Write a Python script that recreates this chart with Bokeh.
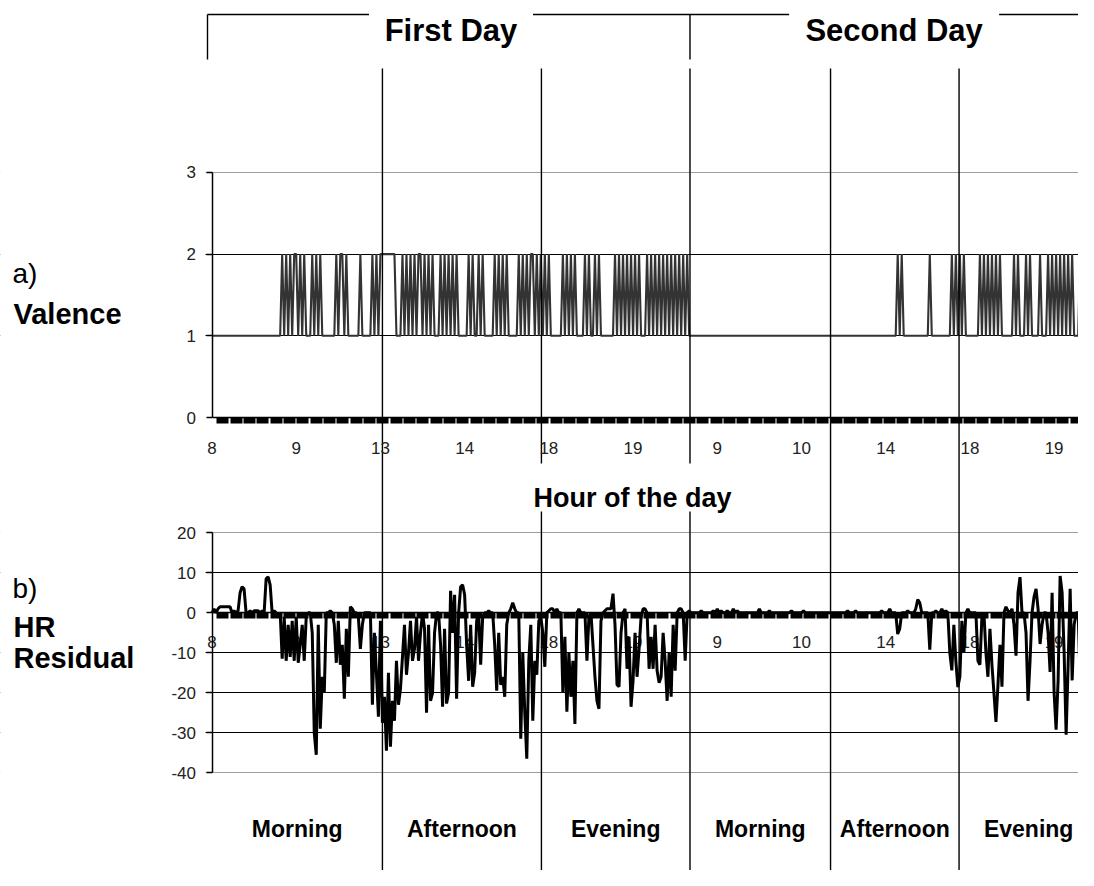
import numpy as np
from bokeh.plotting import figure
from bokeh.models import Range1d, LinearAxis, FixedTicker, Grid, BoxAnnotation, Label
from bokeh.embed import file_html
from bokeh.resources import INLINE

# ---------------- data ----------------
hour_labels = ["8", "9", "13", "14", "18", "19", "9", "10", "14", "18", "19"]
samples_per_label = 42
day_names = ["First Day", "Second Day"]
period_names = ["Morning", "Afternoon", "Evening", "Morning", "Afternoon", "Evening"]
# sample index of the Morning / Afternoon / Evening boundaries (the middle one ends day 1)
period_bounds = [85.0, 164.3, 238.4, 308.5, 372.6]
data_end = 442
valence_ticks = [0, 1, 2, 3]
hr_ticks = [-40, -30, -20, -10, 0, 10, 20]

# valence per sample (1 = neutral, 2 = positive)
valence_codes = (
    "1111111111" "1111111111" "1111111111" "11111"
    "212121221212" "111" "212121" "111111" "212212" "11111" "121" "1111"
    "21212" "2222222" "111" "21212121221212121" "11" "212121212" "11111"
    "21211212" "11111" "2121212" "11111" "21212122121212121" "11111"
    "21212121" "111" "212112121" "111111" "21212121212121" "11"
    "212121212121212121212"
    "1111111111" "1111111111" "1111111111" "1111111111" "1111111111"
    "1111111111" "1111111111" "1111111111" "1111111111" "1111111111" "1111"
    "212" "1111111111111" "21" "111111111" "21212121" "111111"
    "212121212121" "11111" "212" "111" "212" "1111" "21" "11"
    "21212121212121" "11" "21" "11"
)
valence = [int(c) for c in valence_codes]

# heart-rate residual per sample
hr_residual = [
    0, 1, 0, 1, 1.5, 1.5, 1.5, 1.5, 1.5, 1.5,            # 0
    0, 0.5, 0, 0.5, 5, 6.5, 6, 0, 0, 0.5,                # 10
    0, 0.5, 0.5, 0.5, 0, 0.5, 0, 8.5, 9, 7,              # 20
    0, 0.5, 0, -1, 0, -11.5, -1, -12, -3, -11,           # 30
    -2, -12, -1, -12.5, -8, -3, -12, -1, 0, 0,           # 40
    -5, -30, -35.5, -3, -29, -16, -20, 0, 0, 0.5,        # 50
    0, -3, -12.5, -2, -13, -8, -21.5, -4, -16, 1.5,      # 60
    1, 0, 0, -1, -9, -3, 0, 0, 0, 0,                     # 70
    -23, -5, -15, -26, -2, -27.5, -21, -34.5, -15, -33.5,  # 80
    -22, -27, -12, -23, -19, -11, -3, -15.5, -10, -2,    # 90
    -12, -9, -1, -12, -5, 0, -4, -25, -3, -22,           # 100
    -20, -5, 0, 0, -8, -23.5, -4, -22.7, -20, 5.5,       # 110
    -5, 4.5, -21.5, 0, 6.5, 7, 4.5, -8, -17, -3,         # 120
    -18.5, -15, -2, 0, -13, -1, 0, 0, 0.5, 0,            # 130
    0, -8, -19.5, -5, -18, -16, -21, -3, 0, 1,           # 140
    2.5, 1, 0, 0, -31.5, -10, -25, -36.5, -12, -3,       # 150
    -27, -12, -15.5, -2, -1, -5, -13.5, 0, 0.5, 1,       # 160
    1, 0, 1, 0, 0, -20, -6, -24.7, -10, -21,             # 170
    -12, -27.8, 0, 1, 0, 0, 0, -12, -1, 0,               # 180
    -8, -16, -22, -24, -2, 0, 0.5, 1, 1, 1,              # 190
    4.8, -3, -18, -18.5, -5, 0, 1, -14, -6, -23.5,       # 200
    -17, -5, -16, -9, -1, 1, 1, 0, -14, -6,              # 210
    -14, -3, -14.5, -17.5, -16, -5, -12, -22, -10, -21,  # 220
    -3, -14.5, 0, 1, 1, 0, -12, 0, 0.5, 0,               # 230
    0, 0, 0, 0, 0.5, 0, 0, 0, 0, 0,                      # 240
    0.5, 0, 1, 0, 0.5, 0, 0, 0.5, 0, 0,                  # 250
    1, 0, 0.5, 0, 0, 0, 0, 0, 0, 0,                      # 260
    0, 0, 0, 1, 0, 0, 0, 0, 0.5, 0,                      # 270
    0, 0, 0, 0, 0, 0, 0, 0, 0, 0.5,                      # 280
    0, 0, 0, 0, 0, 0.5, 0, 0, 0, 0,                      # 290
    0, 0, 0, 0, 0, 0, 0, 0, 0, 0,                        # 300
    0, 0, 0, 0, 0, 0, 0, 0.5, 0, 0,                      # 310
    0, 0.5, 0, 0, 0, 0, 0, 0, 0, 0,                      # 320
    0, 0, 0, 0, 0.5, 0, 0, 0, 1, 0,                      # 330
    0, 0, -5.3, -4, 0, 0, 0, 0.5, 0, 0,                  # 340
    0, 1, 3.3, 2.5, 0, 0, 0, 0, -9.2, 0,                 # 350
    0, 0.5, 0, 0, 1, 0, 0.5, 0, -10, -14.4,              # 360
    -3, -12, -18.6, -16, -2, -10, 0, 1, 0, 0,            # 370
    0, 0, -12, -13, -1, 0, -10, -16, -4, -13,            # 380
    -20, -27.3, -18, -8, -18.5, 0, 1.5, 0.5, 0, 1,       # 390
    -3, -10.7, 5, 8.9, 0, 0, -5, -22, -12, 0,            # 400
    4, 6, 1, -7.8, -3, 0, 0, -5, -14.8, 5,               # 410
    -20, -29.2, -17, 9.2, 5, -10, -30.5, -13, 6, -16.9,  # 420
    -3, 0, 0, -17.3, 0, 0.5, 0,                          # 430
]

# ---------------- layout (picture pixels) ----------------
W, H = 1078, 870
PAGE_L, PAGE_R, PAGE_T, PAGE_B = 0, W, 0, H
X_ORIGIN, X_STEP = 211.5, 2.005          # x of sample 0, px per sample
VAL0_Y, VAL_STEP = 417.0, 81.7           # y of valence 0, px per unit
HR0_Y, HR_STEP = 612.3, 4.0              # y of residual 0, px per unit
FONT = "Liberation Sans"


def sx(px):
    return (px - X_ORIGIN) / X_STEP


def spx(s):
    return X_ORIGIN + s * X_STEP


p = figure(width=W, height=H, output_backend="svg", toolbar_location=None,
           x_range=Range1d(sx(PAGE_L), sx(PAGE_R)),
           y_range=Range1d(PAGE_B, PAGE_T),
           x_axis_type=None, y_axis_type=None, title=None,
           min_border=0, outline_line_color=None,
           background_fill_color="white", border_fill_color="white")
p.extra_x_ranges = {"px": Range1d(PAGE_L, PAGE_R)}
p.extra_y_ranges = {
    "val": Range1d((VAL0_Y - PAGE_B) / VAL_STEP, (VAL0_Y - PAGE_T) / VAL_STEP),
    "hr": Range1d((HR0_Y - PAGE_B) / HR_STEP, (HR0_Y - PAGE_T) / HR_STEP),
}

# ---------------- grids ----------------
p.add_layout(Grid(dimension=1, y_range_name="val", ticker=FixedTicker(ticks=[1, 2]),
                  grid_line_color="black", grid_line_width=1))
p.add_layout(Grid(dimension=1, y_range_name="val", ticker=FixedTicker(ticks=[3]),
                  grid_line_color="#a0a0a0", grid_line_width=1))
p.add_layout(Grid(dimension=1, y_range_name="hr", ticker=FixedTicker(ticks=[-30, -20, -10, 10]),
                  grid_line_color="black", grid_line_width=1))
p.add_layout(Grid(dimension=1, y_range_name="hr", ticker=FixedTicker(ticks=[-40, 20]),
                  grid_line_color="#a0a0a0", grid_line_width=1))
# keep grid lines out of the label margin left of the axes
p.add_layout(BoxAnnotation(right=sx(205), fill_color="white", fill_alpha=1.0,
                           line_color=None, level="underlay"))

label_pos = [k * samples_per_label for k in range(len(hour_labels))]
label_map = {pos: lab for pos, lab in zip(label_pos, hour_labels)}
band_pos = [5.42 + 6.65 * k for k in range(66)]

axis_common = dict(axis_line_color="black", axis_line_width=1.5,
                   major_label_text_font=FONT, major_label_text_font_size="17px",
                   major_label_text_color="#222222")
band_style = dict(major_tick_out=0, major_tick_in=0, major_tick_line_color=None,
                  minor_tick_out=6, minor_tick_in=0, minor_tick_line_width=12,
                  minor_tick_line_color="black")

# valence axes
p.add_layout(LinearAxis(y_range_name="val", fixed_location=0, bounds=(0, 3),
                        ticker=FixedTicker(ticks=valence_ticks),
                        major_tick_out=6, major_tick_in=0, major_tick_line_width=1.5,
                        minor_tick_line_color=None, major_label_standoff=10,
                        **axis_common), "left")
p.add_layout(LinearAxis(y_range_name="val", fixed_location=0, bounds=(0, sx(PAGE_R)),
                        ticker=FixedTicker(ticks=label_pos, minor_ticks=band_pos),
                        major_label_standoff=18, major_label_overrides=label_map,
                        **band_style, **axis_common), "below")

# residual axes
p.add_layout(LinearAxis(y_range_name="hr", fixed_location=0, bounds=(-40, 20),
                        ticker=FixedTicker(ticks=hr_ticks),
                        major_tick_out=6, major_tick_in=0, major_tick_line_width=1.5,
                        minor_tick_line_color=None, major_label_standoff=10,
                        major_label_overrides={t: str(t) for t in hr_ticks},
                        **axis_common), "left")
p.add_layout(LinearAxis(y_range_name="hr", fixed_location=0, bounds=(0, sx(PAGE_R)),
                        ticker=FixedTicker(ticks=label_pos, minor_ticks=band_pos),
                        major_label_standoff=17, major_label_overrides=label_map,
                        level="underlay", **band_style, **axis_common), "below")

# ---------------- data lines ----------------
p.line(x=np.arange(len(valence)), y=valence, y_range_name="val",
       line_color="#333333", line_width=2.1)
p.line(x=np.arange(len(hr_residual)), y=hr_residual, y_range_name="hr",
       line_color="black", line_width=3.0)

# ---------------- period separators ----------------
x0s, y0s, x1s, y1s = [], [], [], []
for b in period_bounds:
    if 520 < spx(b) < 745:          # broken where "Hour of the day" sits
        pieces = [(68, 463), (511, 885)]
    else:
        pieces = [(68, 885)]
    for a, z in pieces:
        x0s.append(b); x1s.append(b); y0s.append(a); y1s.append(z)
p.segment(x0=x0s, y0=y0s, x1=x1s, y1=y1s, line_color="black", line_width=1.4)

# ---------------- day bracket ----------------
day_edges = [0, period_bounds[2], data_end]
day_centers = [spx((day_edges[i] + day_edges[i + 1]) / 2) for i in range(2)]
gaps = [82, 105]
bx0 = [207, day_centers[0] + gaps[0], day_centers[1] + gaps[1]]
bx1 = [day_centers[0] - gaps[0], day_centers[1] - gaps[1], PAGE_R]
p.segment(x0=bx0, y0=[14] * 3, x1=bx1, y1=[14] * 3, x_range_name="px",
          line_color="black", line_width=1.4)
p.segment(x0=[207, spx(period_bounds[2])], y0=[14, 14],
          x1=[207, spx(period_bounds[2])], y1=[59, 59], x_range_name="px",
          line_color="black", line_width=1.4)


def add_text(x, y, text, size, bold=False, align="left"):
    p.add_layout(Label(x=x, y=y, x_range_name="px", text=text, text_font=FONT,
                       text_font_size=f"{size}px",
                       text_font_style="bold" if bold else "normal",
                       text_align=align, text_baseline="alphabetic",
                       text_color="black"))


for name, cx in zip(day_names, day_centers):
    add_text(cx, 30, name, 31, bold=True, align="center")

add_text(12, 273, "a)", 28)
add_text(13, 313, "Valence", 29, bold=True)
add_text(12, 588, "b)", 28)
add_text(13, 626, "HR", 29, bold=True)
add_text(13, 657, "Residual", 29, bold=True)
add_text(632, 497, "Hour of the day", 27, bold=True, align="center")

edges = [0] + period_bounds + [data_end]
for i, name in enumerate(period_names):
    add_text(spx((edges[i] + edges[i + 1]) / 2), 828, name, 23, bold=True, align="center")

open("out.html", "w").write(file_html(p, INLINE))
